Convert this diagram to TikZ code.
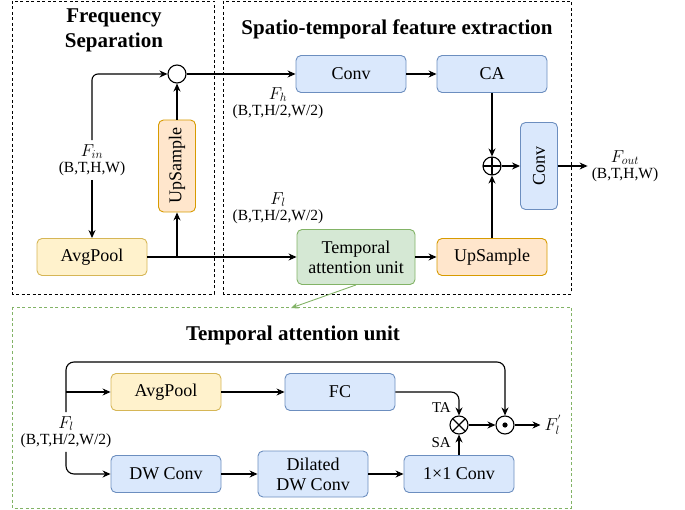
\documentclass[tikz,border=0pt]{standalone}
\usepackage{fontspec}
\setmainfont{Liberation Serif}
\usetikzlibrary{arrows.meta,positioning,calc}
\definecolor{BlueFill}{HTML}{DAE8FC}
\definecolor{BlueLine}{HTML}{6C8EBF}
\definecolor{YlwFill}{HTML}{FFF2CC}
\definecolor{YlwLine}{HTML}{D6B656}
\definecolor{OrgFill}{HTML}{FFE6CC}
\definecolor{OrgLine}{HTML}{D79B00}
\definecolor{GrnFill}{HTML}{D5E8D4}
\definecolor{GrnLine}{HTML}{82B366}
\newcommand{\feat}[1]{{\fontsize{17}{16}\selectfont$F_{#1}$}}

\begin{document}
\begin{tikzpicture}[x=1pt,y=-1pt,
    blk/.style={rounded corners=5pt,draw=BlueLine,fill=BlueFill,line width=0.9pt,minimum width=110pt,
      minimum height=37pt,align=center,inner sep=1pt,font=\fontsize{18}{20}\selectfont},
    ylw/.style={blk,draw=YlwLine,fill=YlwFill},
    org/.style={blk,draw=OrgLine,fill=OrgFill},
    grn/.style={blk,draw=GrnLine,fill=GrnFill},
    arr/.style={-{Stealth[length=8pt,width=7pt]},line width=1.1pt},
    lbl/.style={align=center,inner sep=4pt,font=\fontsize{15.5}{16}\selectfont},
    ttl/.style={align=center,font=\bfseries\fontsize{21}{25}\selectfont},
    frame/.style={line width=0.9pt,dash pattern=on 3pt off 2.5pt},
    op/.style={circle,draw,line width=1.1pt,minimum size=18pt,inner sep=0pt},
    plusop/.style={op,path picture={\draw[line width=1.1pt] (path picture bounding box.north) -- (path picture bounding box.south)
      (path picture bounding box.west) -- (path picture bounding box.east);}},
    timesop/.style={op,path picture={\draw[line width=1.1pt] (path picture bounding box.north west) -- (path picture bounding box.south east)
      (path picture bounding box.north east) -- (path picture bounding box.south west);}},
    dotop/.style={op,path picture={\fill (path picture bounding box.center) circle (2.6pt);}}
  ]
    \useasboundingbox (0,0) rectangle (685,510);
    % frames
    \draw[frame] (12,1) rectangle (214,294);
    \draw[frame] (223,1) rectangle (571,294);
    \draw[frame,GrnLine] (12,307) rectangle (571,508);
    \node[ttl] (freqttl) at (114,30) {Frequency\\Separation};
    \node[ttl] (stttl) at (397,29) {Spatio-temporal feature extraction};
    \node[ttl] (tauttl) at (293,335) {Temporal attention unit};

    % frequency separation
    \node[lbl] (fin) at (92,160) {\feat{in}\\(B,T,H,W)};
    \node[ylw] (avg1) at (92,257) {AvgPool};
    \node[org,rotate=90,minimum width=92pt] (up1) at (177,166) {UpSample};
    \node[op] (sub) at (177,74) {};
    \coordinate (j1) at (177,257);

    % spatio-temporal feature extraction
    \node[blk] (conv1) at (351,74) {Conv};
    \node[blk] (ca) at (492,74) {CA};
    \node[grn,minimum width=118pt,minimum height=55pt] (tau) at (356,257) {Temporal\\attention unit};
    \node[org] (up2) at (492,257) {UpSample};
    \node[plusop] (add) at (492,166) {};
    \node[blk,rotate=90,minimum width=87pt] (conv2) at (539,166) {Conv};
    \node[lbl] (fh) at (278,103) {\feat{h}\\(B,T,H/2,W/2)};
    \node[lbl] (fl) at (278,208) {\feat{l}\\(B,T,H/2,W/2)};
    \node[lbl] (fout) at (625,166) {\feat{out}\\(B,T,H,W)};
    \coordinate (tauin) at (291,308);

    \draw[arr] (fin) -- (avg1);
    \draw[arr,rounded corners=6pt] (fin.north) |- (sub);
    \draw[arr] (avg1) -- (tau);
    \draw[arr] (j1) -- (up1);
    \foreach \a/\b in {up1/sub,sub/conv1,conv1/ca,ca/add,up2/add,add/conv2,conv2/fout,tau/up2}
      \draw[arr] (\a) -- (\b);
    \draw[-{Stealth[length=7pt,width=6pt]},GrnLine,line width=0.9pt] (tau.south) -- (tauin);

    % temporal attention unit
    \node[lbl] (fl2) at (66,432) {\feat{l}\\(B,T,H/2,W/2)};
    \node[ylw] (avg2) at (166,392) {AvgPool};
    \node[blk] (fc) at (340,392) {FC};
    \node[blk] (dw) at (166,474) {DW Conv};
    \node[blk,minimum height=46pt] (ddw) at (313,474) {Dilated\\DW Conv};
    \node[blk] (conv11) at (459,474) {1×1 Conv};
    \node[timesop] (mul) at (459,425) {};
    \node[dotop] (dot) at (505,425) {};
    \node[lbl,font=\fontsize{17}{17}\selectfont] (flp) at (553,425) {$F_l^{'}$};
    \coordinate (tl) at (66,362);

    \draw[arr,rounded corners=8pt] (fl2.north) -- (tl) -| (dot);
    \draw[arr] (fl2.north |- avg2) -- (avg2);
    \draw[arr,rounded corners=8pt] (fl2.south) |- (dw);
    \draw[arr,rounded corners=8pt] (fc) -| (mul);
    \foreach \a/\b in {avg2/fc,dw/ddw,ddw/conv11,conv11/mul,mul/dot,dot/flp}
      \draw[arr] (\a) -- (\b);
    \node[font=\fontsize{15}{15}\selectfont,anchor=east,inner sep=1pt] (ta) at (452,408) {TA};
    \node[font=\fontsize{15}{15}\selectfont,anchor=east,inner sep=1pt] (sa) at (452,443) {SA};
  \end{tikzpicture}
\end{document}
